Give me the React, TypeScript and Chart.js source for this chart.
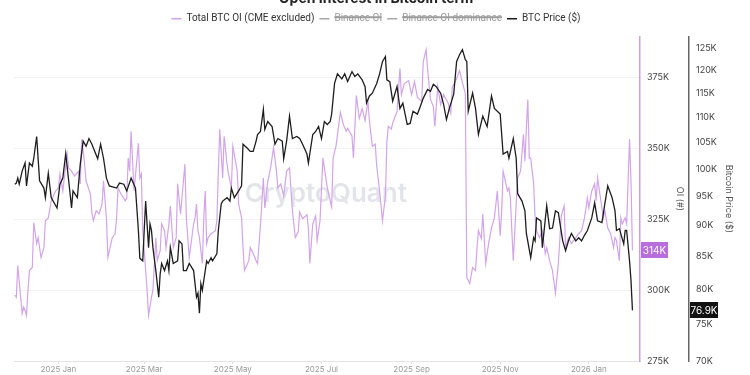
import React, { useEffect, useRef } from 'react';
import { Chart, registerables } from 'chart.js';

Chart.register(...registerables);

// ---------- text ----------
const TITLE = 'Open Interest in Bitcoin term';
const SERIES_NAMES = ['Total BTC OI (CME excluded)', 'Binance OI', 'Binance OI dominance', 'BTC Price ($)'];
const OI_AXIS_TITLE = 'OI (#)';
const PRICE_AXIS_TITLE = 'Bitcoin Price ($)';
const WATERMARK = 'CryptoQuant';

// ---------- x axis (days since 2025-01-01) ----------
const monthTickDays = [0, 59, 120, 181, 243, 304, 365];
const monthTickLabels = ['2025 Jan', '2025 Mar', '2025 May', '2025 Jul', '2025 Sep', '2025 Nov', '2026 Jan'];
const X_MIN = -30.6;
const X_MAX = 400.2;

// ---------- y axes (thousands) ----------
const oiTicks = [275, 300, 325, 350, 375];
const OI_MIN = 275;
const OI_MAX = 389.4;
const priceTicks = [70, 75, 80, 85, 90, 95, 100, 105, 110, 115, 120, 125];
const PRICE_MIN = 70;
const PRICE_MAX = 127.8;

// ---------- Total BTC OI (K BTC) ----------
const oiDays = [
  -30, -29, -28, -25, -24, -23, -22, -21, -20, -18,
  -17, -15, -14, -12, -10, -9, -7, -5, -2, 0,
  1, 3, 4, 6, 7, 9, 11, 14, 15, 16,
  18, 19, 22, 23, 24, 26, 28, 30, 31, 33,
  34, 37, 39, 40, 41, 43, 46, 47, 48, 49,
  50, 52, 55, 56, 57, 58, 61, 62, 64, 65,
  67, 68, 70, 71, 73, 74, 76, 77, 79, 81,
  82, 84, 85, 87, 88, 89, 90, 93, 94, 95,
  96, 97, 99, 100, 101, 102, 103, 105, 108, 109,
  110, 111, 113, 114, 116, 117, 119, 120, 123, 124,
  126, 127, 128, 131, 132, 134, 136, 137, 139, 141,
  142, 144, 146, 148, 150, 151, 153, 155, 157, 159,
  161, 163, 165, 166, 168, 171, 172, 173, 175, 177,
  178, 180, 182, 185, 187, 188, 189, 191, 194, 196,
  198, 199, 202, 203, 205, 207, 209, 211, 213, 214,
  216, 218, 219, 221, 223, 225, 226, 227, 229, 230,
  233, 235, 236, 238, 241, 243, 245, 247, 250, 251,
  253, 254, 256, 258, 259, 261, 263, 265, 268, 270,
  271, 274, 276, 278, 280, 281, 283, 285, 287, 288,
  289, 291, 292, 294, 296, 298, 300, 302, 304, 305,
  306, 309, 310, 311, 312, 313, 315, 316, 318, 320,
  321, 322, 323, 324, 325, 327, 328, 329, 331, 333,
  335, 336, 338, 340, 342, 344, 345, 346, 348, 349,
  351, 353, 356, 358, 360, 362, 364, 365, 367, 369,
  370, 371, 373, 375, 376, 378, 380, 382, 383, 384,
  386, 387, 388, 390, 391, 393, 394, 395,
];
const oiValues = [
  298.2, 297.5, 308.7, 291.8, 294.0, 292.9, 291.1, 299.9, 306.9, 308.0,
  323.8, 316.4, 318.5, 311.5, 315.0, 324.5, 325.5, 331.5, 335.0, 336.1,
  341.0, 335.0, 339.6, 348.0, 343.1, 342.0, 340.3, 342.0, 337.5, 353.2,
  344.5, 338.5, 333.9, 327.3, 324.5, 328.0, 326.9, 330.4, 338.5, 325.5,
  311.5, 318.5, 319.9, 325.5, 336.1, 333.9, 331.5, 332.5, 346.6, 342.0,
  356.1, 335.0, 351.8, 339.6, 341.0, 321.0, 299.9, 291.1, 297.5, 299.9,
  318.5, 310.4, 313.9, 323.4, 321.0, 315.0, 323.4, 329.7, 315.0, 318.5,
  337.5, 326.9, 332.5, 344.5, 325.5, 318.5, 311.5, 323.4, 325.5, 330.4,
  321.0, 318.5, 309.4, 325.5, 335.0, 316.4, 318.5, 319.9, 321.0, 324.5,
  342.0, 356.8, 339.6, 354.3, 344.5, 341.0, 336.1, 350.8, 342.0, 330.4,
  325.5, 315.0, 306.9, 310.4, 315.0, 312.9, 310.4, 309.4, 322.7, 339.6,
  329.0, 338.2, 343.1, 350.4, 342.0, 336.1, 337.5, 333.2, 342.0, 343.1,
  328.0, 318.5, 320.6, 327.6, 325.2, 326.6, 321.7, 309.4, 323.4, 326.2,
  317.5, 324.5, 346.6, 336.1, 331.5, 329.4, 346.6, 350.8, 362.7, 358.5,
  356.1, 357.1, 354.3, 346.6, 368.7, 360.6, 364.1, 359.9, 366.6, 359.6,
  350.8, 351.5, 343.8, 335.0, 324.5, 333.2, 352.5, 357.8, 356.8, 358.9,
  363.1, 378.2, 369.0, 372.9, 373.9, 369.0, 373.6, 368.0, 366.6, 380.6,
  384.8, 378.2, 367.3, 364.8, 357.8, 371.8, 365.5, 369.0, 366.2, 362.4,
  371.5, 374.6, 377.5, 373.2, 369.4, 304.5, 302.4, 308.0, 306.9, 314.6,
  321.0, 318.2, 326.9, 309.4, 316.4, 322.0, 325.5, 335.0, 319.2, 328.0,
  342.0, 335.0, 336.1, 332.5, 321.0, 310.4, 330.4, 339.6, 342.0, 355.0,
  345.5, 357.1, 367.3, 346.6, 346.6, 337.5, 325.5, 321.0, 318.5, 321.0,
  312.9, 315.0, 310.4, 306.9, 298.9, 309.4, 317.5, 326.2, 329.7, 315.0,
  318.5, 316.4, 318.5, 319.9, 321.0, 325.5, 332.5, 329.0, 335.0, 337.5,
  331.5, 339.6, 332.5, 325.5, 328.0, 322.0, 319.9, 315.0, 318.5, 317.5,
  310.4, 325.5, 323.4, 325.5, 323.4, 353.2, 338.5, 314.0,
];

// ---------- BTC price (K USD) ----------
const priceDays = [
  -30, -29, -28, -27, -25, -23, -22, -20, -18, -17,
  -15, -13, -10, -9, -7, -5, -1, 1, 3, 5,
  8, 9, 10, 13, 15, 17, 19, 21, 23, 25,
  27, 29, 31, 33, 35, 40, 42, 45, 47, 50,
  53, 55, 56, 58, 60, 62, 63, 64, 65, 67,
  69, 70, 71, 73, 75, 76, 77, 79, 82, 83,
  85, 86, 88, 90, 93, 95, 96, 97, 98, 99,
  102, 103, 105, 106, 109, 110, 112, 113, 116, 118,
  119, 121, 124, 126, 127, 130, 132, 134, 136, 137,
  139, 141, 142, 144, 147, 149, 151, 154, 155, 157,
  159, 161, 164, 166, 168, 171, 172, 175, 177, 179,
  181, 183, 185, 187, 188, 190, 192, 195, 197, 199,
  202, 204, 206, 209, 211, 212, 214, 216, 219, 221,
  223, 225, 226, 228, 230, 233, 235, 237, 240, 242,
  244, 247, 249, 251, 254, 256, 258, 260, 263, 265,
  267, 269, 272, 274, 276, 278, 280, 281, 282, 285,
  287, 289, 292, 295, 298, 300, 304, 306, 309, 310,
  313, 315, 316, 319, 321, 322, 325, 327, 328, 329,
  332, 333, 336, 338, 340, 342, 344, 347, 349, 351,
  353, 356, 358, 360, 362, 364, 367, 369, 371, 374,
  376, 378, 381, 383, 384, 386, 389, 390, 391, 393,
  394, 395,
];
const priceValues = [
  97.2, 97.4, 98.3, 97.2, 99.6, 101.1, 96.9, 101.1, 100.5, 102.0,
  106.2, 97.8, 96.5, 94.8, 99.2, 94.8, 93.0, 97.2, 98.3, 102.9,
  95.5, 93.0, 96.0, 94.8, 100.9, 105.3, 104.3, 105.8, 104.7, 103.3,
  101.9, 104.7, 102.0, 98.3, 96.9, 96.5, 97.4, 97.2, 96.0, 98.3,
  96.5, 89.2, 84.7, 84.3, 94.2, 86.4, 90.3, 89.2, 86.4, 82.8,
  78.8, 82.3, 83.9, 82.8, 84.3, 82.8, 86.4, 83.9, 84.3, 87.5,
  87.0, 82.8, 82.8, 83.9, 82.8, 78.8, 79.4, 76.5, 80.8, 79.8,
  84.3, 83.9, 84.8, 84.3, 85.4, 89.2, 93.7, 94.2, 94.8, 94.2,
  96.5, 94.8, 96.0, 96.9, 104.7, 103.9, 103.3, 103.3, 105.3, 106.6,
  107.2, 111.7, 107.6, 109.2, 108.2, 104.7, 105.8, 105.3, 101.9, 105.3,
  110.3, 105.8, 106.2, 105.8, 104.7, 102.8, 101.1, 106.6, 107.2, 108.2,
  105.8, 109.2, 108.6, 109.2, 110.7, 117.2, 119.3, 118.2, 119.3, 117.6,
  119.8, 118.7, 119.3, 118.0, 116.5, 113.0, 114.5, 115.1, 117.2, 119.3,
  122.1, 123.2, 118.0, 117.6, 113.4, 116.5, 111.9, 113.0, 108.6, 108.8,
  111.3, 110.7, 112.3, 114.0, 115.9, 115.5, 117.0, 116.5, 115.1, 112.8,
  109.6, 111.9, 114.9, 122.1, 123.6, 124.8, 122.5, 122.1, 111.3, 115.1,
  111.9, 106.6, 110.3, 108.2, 114.5, 111.9, 110.7, 102.8, 103.3, 102.0,
  105.8, 102.0, 95.5, 94.2, 92.5, 88.7, 84.8, 88.0, 87.5, 91.3,
  90.8, 86.4, 93.4, 89.5, 89.6, 92.5, 92.2, 87.5, 85.9, 87.5,
  88.7, 87.5, 88.0, 87.5, 88.4, 89.2, 91.3, 93.9, 90.8, 90.5,
  93.7, 96.9, 94.8, 92.5, 89.2, 89.5, 87.0, 89.2, 89.2, 84.3,
  81.3, 76.9,
];

// ---------- styling ----------
const OFFSET = 13;
const W = 750;
const H = 375 + OFFSET;
const OI_COLOR = '#d2a4ea';
const OI_BADGE = '#b86ddc';
const PRICE_COLOR = '#1d1d1d';
const HIDDEN_COLOR = '#a8a8a8';
const FONT = 'Inter, "Noto Sans", sans-serif';
const LEGEND_FONT = 'Roboto, "Noto Sans", sans-serif';

const watermarkPlugin = {
  id: 'watermark',
  beforeDatasetsDraw(chart: any) {
    const { ctx, chartArea } = chart;
    const x = chartArea.left + (chartArea.right - chartArea.left) * 0.498;
    const y = chartArea.top + (chartArea.bottom - chartArea.top) * 0.485;
    ctx.save();
    ctx.font = '600 26px ' + FONT;
    ctx.fillStyle = 'rgba(186,190,206,0.42)';
    ctx.textAlign = 'center';
    ctx.textBaseline = 'middle';
    ctx.fillText(WATERMARK, x, y);
    ctx.restore();
  },
};

const badgePlugin = {
  id: 'badges',
  afterDraw(chart: any) {
    const { ctx } = chart;
    const oiScale = chart.scales.oi;
    const priceScale = chart.scales.price;
    const oiLast = oiValues[oiValues.length - 1];
    const priceLast = priceValues[priceValues.length - 1];
    const draw = (x: number, y: number, w: number, text: string, bg: string) => {
      ctx.save();
      ctx.fillStyle = bg;
      ctx.fillRect(x, Math.round(y) - 8, w, 16);
      ctx.fillStyle = '#ffffff';
      ctx.font = '10px ' + FONT;
      ctx.textAlign = 'center';
      ctx.textBaseline = 'middle';
      ctx.fillText(text, x + w / 2, Math.round(y) + 0.5);
      ctx.restore();
    };
    draw(oiScale.left + 1, oiScale.getPixelForValue(oiLast), 27, Math.round(oiLast) + 'K', OI_BADGE);
    draw(priceScale.left + 1, priceScale.getPixelForValue(priceLast), 28, priceLast.toFixed(1) + 'K', '#111111');
  },
};

// adds a little room below the legend, as in the reference
const legendSpacerPlugin = {
  id: 'legendSpacer',
  beforeUpdate(chart: any) {
    const lg = chart.legend;
    if (lg && !lg.__spaced) {
      const orig = lg.fit;
      lg.fit = function (this: any) {
        orig.call(this);
        this.height += 3;
      };
      lg.__spaced = true;
    }
  },
};

export default function App() {
  const ref = useRef<HTMLCanvasElement>(null);

  useEffect(() => {
    const canvas = ref.current;
    if (!canvas) return;
    Chart.defaults.font.family = FONT;

    const chart = new Chart(canvas, {
      type: 'line',
      data: {
        datasets: [
          {
            label: SERIES_NAMES[0],
            data: oiDays.map((d, i) => ({ x: d, y: oiValues[i] })),
            yAxisID: 'oi',
            borderColor: OI_COLOR,
            backgroundColor: OI_COLOR,
            borderWidth: 1.2,
            pointRadius: 0,
            pointStyle: 'line',
            order: 2,
          },
          {
            label: SERIES_NAMES[1],
            data: [],
            yAxisID: 'oi',
            borderColor: HIDDEN_COLOR,
            backgroundColor: HIDDEN_COLOR,
            borderWidth: 1.2,
            pointRadius: 0,
            pointStyle: 'line',
            hidden: true,
            order: 3,
          },
          {
            label: SERIES_NAMES[2],
            data: [],
            yAxisID: 'oi',
            borderColor: HIDDEN_COLOR,
            backgroundColor: HIDDEN_COLOR,
            borderWidth: 1.2,
            pointRadius: 0,
            pointStyle: 'line',
            hidden: true,
            order: 4,
          },
          {
            label: SERIES_NAMES[3],
            data: priceDays.map((d, i) => ({ x: d, y: priceValues[i] })),
            yAxisID: 'price',
            borderColor: PRICE_COLOR,
            backgroundColor: PRICE_COLOR,
            borderWidth: 1.3,
            pointRadius: 0,
            pointStyle: 'line',
            order: 1,
          },
        ],
      },
      options: {
        responsive: false,
        devicePixelRatio: 1,
        animation: false,
        events: [],
        layout: { padding: { left: 14, right: 12, top: 0, bottom: 0 } },
        plugins: {
          tooltip: { enabled: false },
          title: {
            display: true,
            text: TITLE,
            color: '#222',
            font: { size: 14, weight: 'bold', family: FONT },
            padding: { top: 3, bottom: 2 },
          },
          legend: {
            display: true,
            position: 'top',
            labels: {
              usePointStyle: true,
              pointStyleWidth: 10,
              boxHeight: 10,
              padding: 5,
              font: { size: 10, family: LEGEND_FONT },
              color: '#333',
              sort: (a: any, b: any) => a.datasetIndex - b.datasetIndex,
              generateLabels(ch: any) {
                const items = (Chart.defaults.plugins.legend.labels as any).generateLabels(ch);
                items.forEach((it: any) => {
                  it.fontColor = it.hidden ? '#9c9c9c' : '#333333';
                  it.lineWidth = 1.5;
                });
                return items;
              },
            },
          },
        },
        scales: {
          x: {
            type: 'linear',
            min: X_MIN,
            max: X_MAX,
            afterBuildTicks(scale: any) {
              scale.ticks = monthTickDays.map((v) => ({ value: v }));
            },
            afterFit(scale: any) {
              scale.height = 14;
            },
            ticks: {
              autoSkip: false,
              maxRotation: 0,
              padding: 1,
              color: '#9a9a9a',
              font: { size: 8, family: FONT },
              callback: (v: any) => {
                const i = monthTickDays.indexOf(Number(v));
                return i >= 0 ? monthTickLabels[i] : '';
              },
            },
            grid: { display: true, drawOnChartArea: false, drawTicks: true, tickLength: 3, color: '#dddddd' },
            border: { display: true, color: '#e4e4e4', width: 1 },
          },
          oi: {
            type: 'linear',
            position: 'right',
            weight: 0,
            min: OI_MIN,
            max: OI_MAX,
            afterBuildTicks(scale: any) {
              scale.ticks = oiTicks.map((v) => ({ value: v }));
            },
            afterFit(scale: any) {
              scale.width = 49;
            },
            ticks: {
              padding: 7,
              color: '#444',
              font: { size: 9, family: FONT },
              callback: (v: any) => v + 'K',
            },
            grid: { display: true, drawOnChartArea: true, drawTicks: false, color: '#f3f3f3' },
            border: { display: true, color: '#cf9de8', width: 1.5 },
            title: {
              display: true,
              text: OI_AXIS_TITLE,
              color: '#555',
              font: { size: 9, family: FONT },
              padding: { top: 4, bottom: 0 },
            },
          },
          price: {
            type: 'logarithmic',
            position: 'right',
            weight: 1,
            min: PRICE_MIN,
            max: PRICE_MAX,
            afterBuildTicks(scale: any) {
              scale.ticks = priceTicks.map((v) => ({ value: v }));
            },
            afterFit(scale: any) {
              scale.width = 49;
            },
            ticks: {
              padding: 7,
              color: '#444',
              font: { size: 9, family: FONT },
              callback: (v: any) => v + 'K',
            },
            grid: { display: false, drawTicks: false },
            border: { display: true, color: '#666', width: 1.5 },
            title: {
              display: true,
              text: PRICE_AXIS_TITLE,
              color: '#555',
              font: { size: 9, family: FONT },
              padding: { top: 4, bottom: 0 },
            },
          },
        },
      } as any,
      plugins: [legendSpacerPlugin, watermarkPlugin, badgePlugin],
    });

    return () => chart.destroy();
  }, []);

  return (
    <div style={{ position: 'fixed', left: 0, top: -OFFSET, width: W, height: H, background: '#ffffff' }}>
      <canvas ref={ref} width={W} height={H} style={{ display: 'block', width: W, height: H }} />
    </div>
  );
}
